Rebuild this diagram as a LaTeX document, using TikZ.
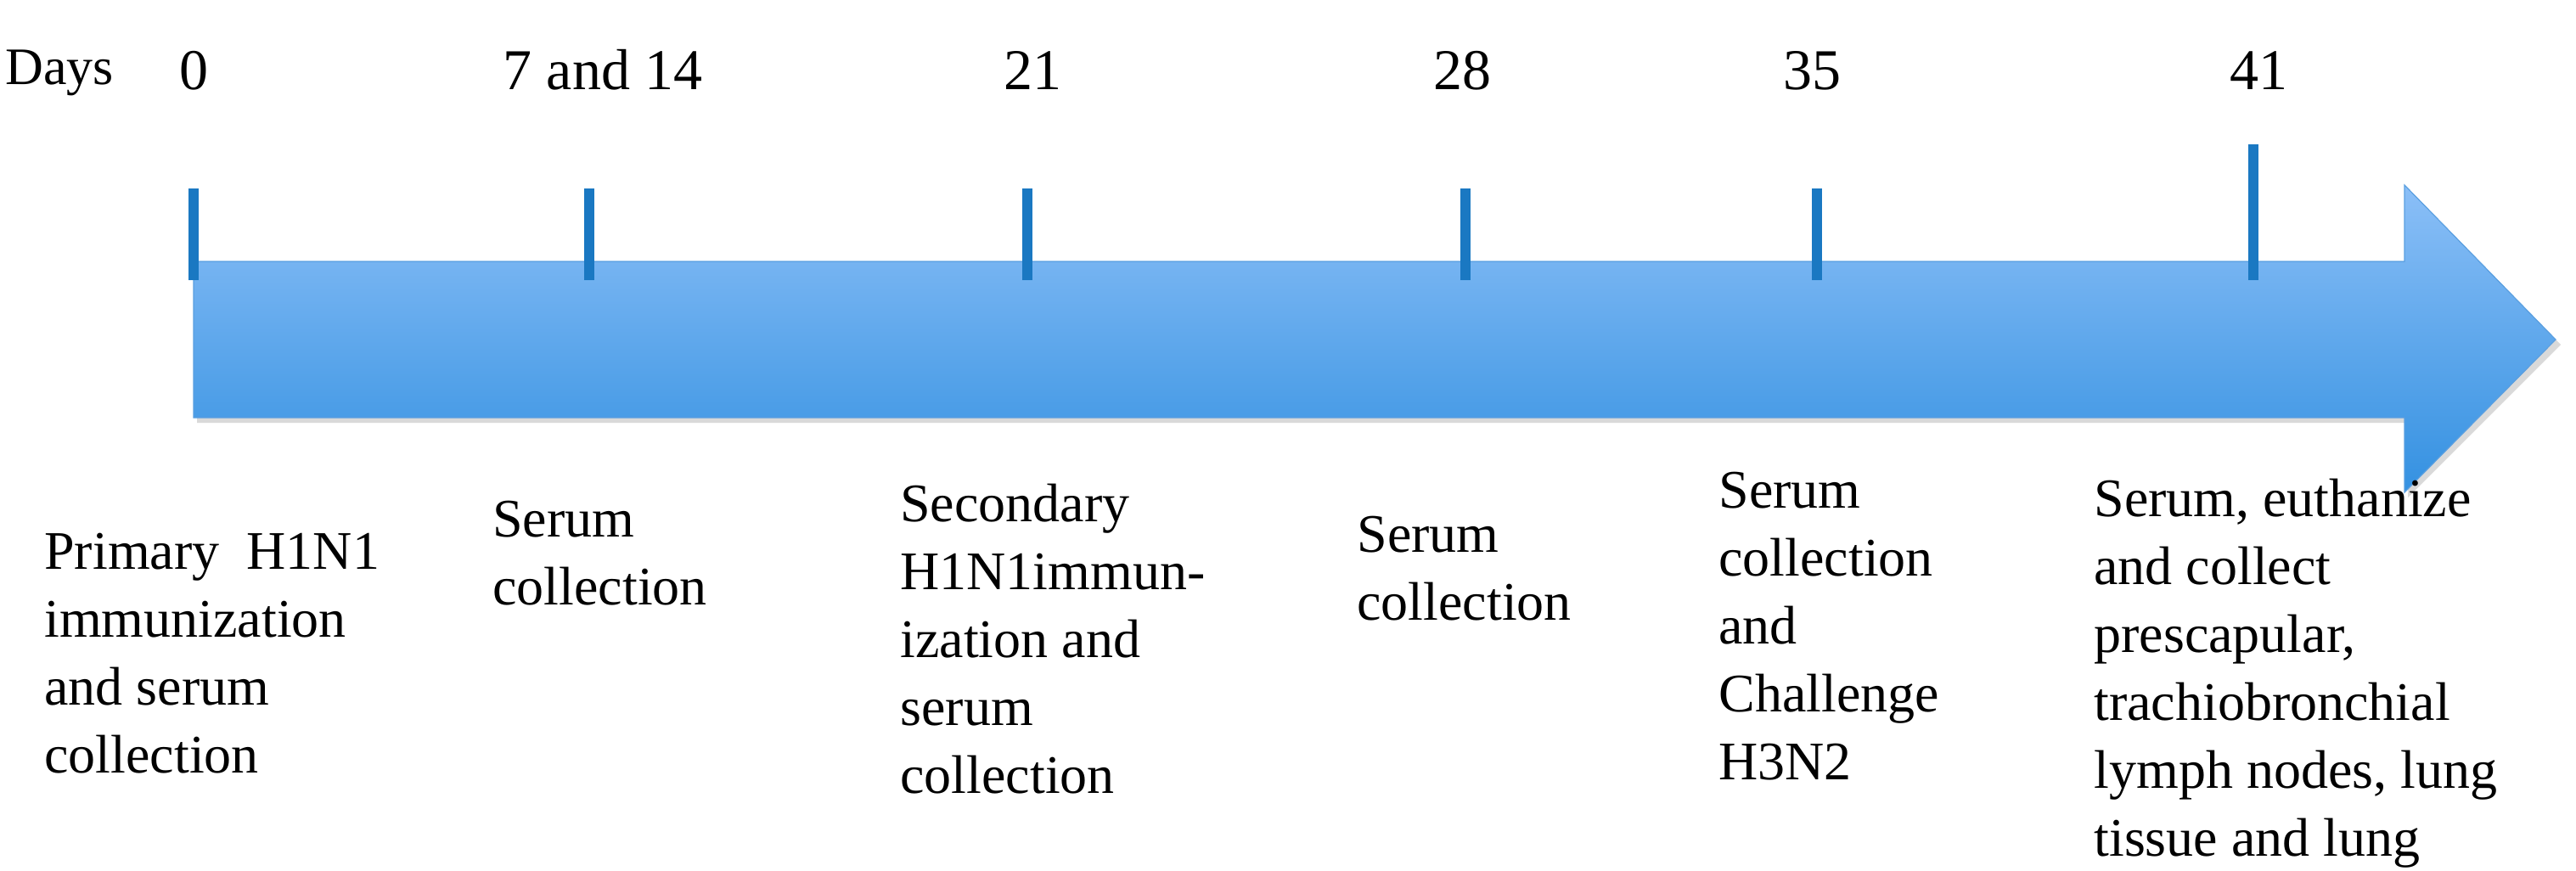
\documentclass[tikz,border=0pt]{standalone}
\usepackage{fontspec}
\setmainfont{Liberation Serif}
\begin{document}
\begin{tikzpicture}[x=1pt,y=1pt,
  day/.style={anchor=base,inner sep=0,font=\fontsize{34}{40}\selectfont},
  lbl/.style={anchor=north west,inner sep=0,align=left,font=\fontsize{32}{40}\selectfont},
  tick/.style={draw={rgb,255:red,26;green,120;blue,194},line width=6pt}]
\useasboundingbox (0,0) rectangle (1517,-513);
\definecolor{atop}{RGB}{139,191,247}
\definecolor{abot}{RGB}{52,145,225}
% arrow
\fill[black!25,opacity=0.6] (116,-157) -- (1418,-157) -- (1418,-112) -- (1508,-203) -- (1418,-293) -- (1418,-249) -- (116,-249) -- cycle;
\path[top color=atop,bottom color=abot,draw={rgb,255:red,90;green,159;blue,224},line width=0.6pt]
  (114,-154) -- (1416,-154) -- (1416,-109) -- (1505,-200) -- (1416,-290) -- (1416,-246) -- (114,-246) -- cycle;
% ticks
\foreach \n/\x in {a/114,b/347,c/605,d/863,e/1070}{
  \coordinate (t\n1) at (\x,-111); \coordinate (t\n2) at (\x,-165);
  \draw[tick] (t\n1) -- (t\n2);}
\coordinate (tf1) at (1327,-85); \coordinate (tf2) at (1327,-165);
\draw[tick] (tf1) -- (tf2);
% day labels
\node[anchor=base west,inner sep=0,font=\fontsize{31}{36}\selectfont] (days) at (3,-50) {Days};
\node[day] (d0) at (114,-53) {0};
\node[day] (d7) at (355,-53) {7 and 14};
\node[day] (d21) at (608,-53) {21};
\node[day] (d28) at (861,-53) {28};
\node[day] (d35) at (1067,-53) {35};
\node[day] (d41) at (1330,-53) {41};
% bottom labels
\node[lbl] (l1) at (26,-314) {Primary\ \ H1N1\\immunization\\and serum\\collection};
\node[lbl] (l2) at (290,-295) {Serum\\collection};
\node[lbl] (l3) at (530,-285) {Secondary\\H1N1immun-\\ization and\\serum\\collection};
\node[lbl] (l4) at (799,-304) {Serum\\collection};
\node[lbl] (l5) at (1012,-278) {Serum\\collection\\and\\Challenge\\H3N2};
\node[lbl] (l6) at (1233,-282) {Serum, euthanize\\and collect\\prescapular,\\trachiobronchial\\lymph nodes, lung\\tissue and lung};
\end{tikzpicture}
\end{document}
